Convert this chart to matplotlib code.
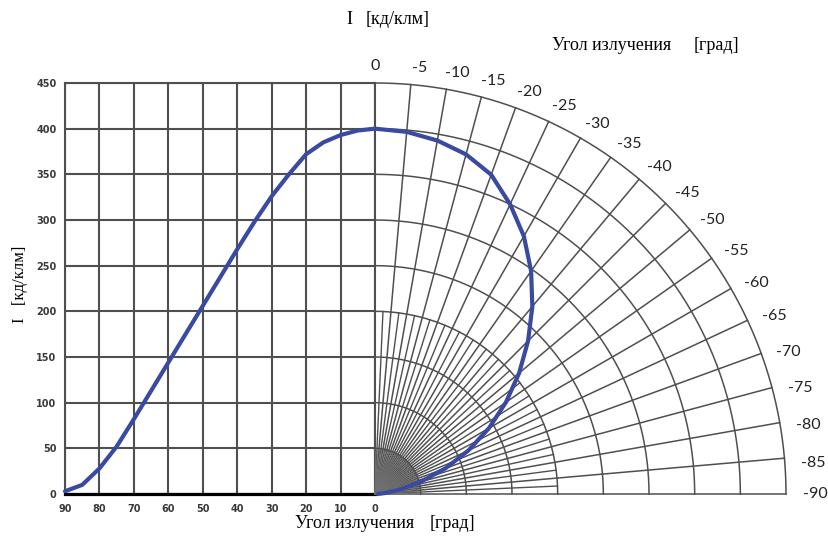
import matplotlib
matplotlib.use('Agg')
import matplotlib.pyplot as plt
import numpy as np

# данные: угол излучения (град) и сила света I (кд/клм)
angles = [0, 5, 10, 15, 20, 25, 30, 35, 40, 45, 50, 55, 60, 65, 70, 75, 80, 85, 90]
intensity = [400, 398, 393, 385, 372, 350, 326, 298, 268, 237, 206, 175, 144, 113, 82, 52, 28, 10, 3]

x_ticks = [90, 80, 70, 60, 50, 40, 30, 20, 10, 0]
y_ticks = [0, 50, 100, 150, 200, 250, 300, 350, 400, 450]
polar_labels = ['0', '-5', '-10', '-15', '-20', '-25', '-30', '-35', '-40', '-45',
                '-50', '-55', '-60', '-65', '-70', '-75', '-80', '-85', '-90']
rings = [50, 100, 150, 200, 250, 300, 350, 400, 450]

W, H = 829, 539
CURVE = '#3a4aa0'
GRID = '#4f4f4f'
SCALE = 411 / 450  # пикселей на единицу


def px(x, y):
    return x / W, 1 - y / H


fig = plt.figure(figsize=(W / 100, H / 100), dpi=100, facecolor='white')

# левая (декартова) часть
ax = fig.add_axes([65 / W, 45 / H, 310 / W, 411 / H])
ax.set_xlim(90, 0)
ax.set_ylim(0, 450)
ax.set_xticks(x_ticks)
ax.set_yticks(y_ticks)
ax.set_xticklabels([str(t) for t in x_ticks])
ax.grid(True, color=GRID, lw=1.5)
ax.tick_params(length=0, labelsize=7, labelcolor='#3a3a3a')
ax.tick_params(axis='y', pad=6)
ax.tick_params(axis='x', pad=7)
for lab in ax.get_xticklabels() + ax.get_yticklabels():
    lab.set_fontweight('bold')
for s in ['left', 'top', 'right']:
    ax.spines[s].set_color(GRID)
    ax.spines[s].set_linewidth(1.5)
ax.spines['bottom'].set_color('black')
ax.spines['bottom'].set_linewidth(2.3)
ax.set_axisbelow(True)
ax.plot(angles, intensity, color=CURVE, lw=3, solid_capstyle='round',
        solid_joinstyle='round', clip_on=False, zorder=5)

# правая (полярная) часть
ax2 = fig.add_axes([375 / W, 45 / H, 454 / W, 494 / H])
ax2.set_xlim(0, 454 / SCALE)
ax2.set_ylim(0, 494 / SCALE)
ax2.set_axis_off()

for a in range(0, 91, 5):
    t = np.radians(a)
    ax2.plot([0, 450 * np.sin(t)], [0, 450 * np.cos(t)], color=GRID, lw=1.1, clip_on=False)
for a in np.arange(2.5, 90, 5):
    t = np.radians(a)
    ax2.plot([0, 200 * np.sin(t)], [0, 200 * np.cos(t)], color=GRID, lw=1.0, clip_on=False)
for a in np.arange(1.25, 90, 2.5):
    t = np.radians(a)
    ax2.plot([0, 50 * np.sin(t)], [0, 50 * np.cos(t)], color='#707070', lw=0.7, clip_on=False)
th = np.radians(np.linspace(0, 90, 200))
for r in rings:
    ax2.plot(r * np.sin(th), r * np.cos(th), color=GRID, lw=1.1, clip_on=False)

ang = np.radians(angles)
ri = np.array(intensity)
ax2.plot(ri * np.sin(ang), ri * np.cos(ang), color=CURVE, lw=3,
         solid_capstyle='round', solid_joinstyle='round', clip_on=False, zorder=5)

for a, lab in zip(angles, polar_labels):
    rp = (428 + 12 * a / 90) / SCALE
    t = np.radians(a + 1.0 if 0 < a < 90 else a)
    ax2.text(rp * np.sin(t), rp * np.cos(t), lab, ha='center', va='center',
             fontsize=11.5, family='Lato', color='#222222', clip_on=False)

# подписи
serif = 'Liberation Serif'
fig.text(*px(346, 20), 'I', fontsize=13, family=serif, ha='left', va='center')
fig.text(*px(366, 20), '[кд/клм]', fontsize=13, family=serif, ha='left', va='center')
fig.text(*px(552, 45), 'Угол излучения', fontsize=13, family=serif, ha='left', va='center')
fig.text(*px(694, 45), '[град]', fontsize=13, family=serif, ha='left', va='center')
fig.text(*px(295, 523), 'Угол излучения', fontsize=13, family=serif, ha='left', va='center')
fig.text(*px(430, 523), '[град]', fontsize=13, family=serif, ha='left', va='center')
fig.text(*px(20, 284), 'I   [кд/клм]', fontsize=12, family=serif, ha='center', va='center',
         rotation=90)

fig.savefig('out.png', dpi=100)
